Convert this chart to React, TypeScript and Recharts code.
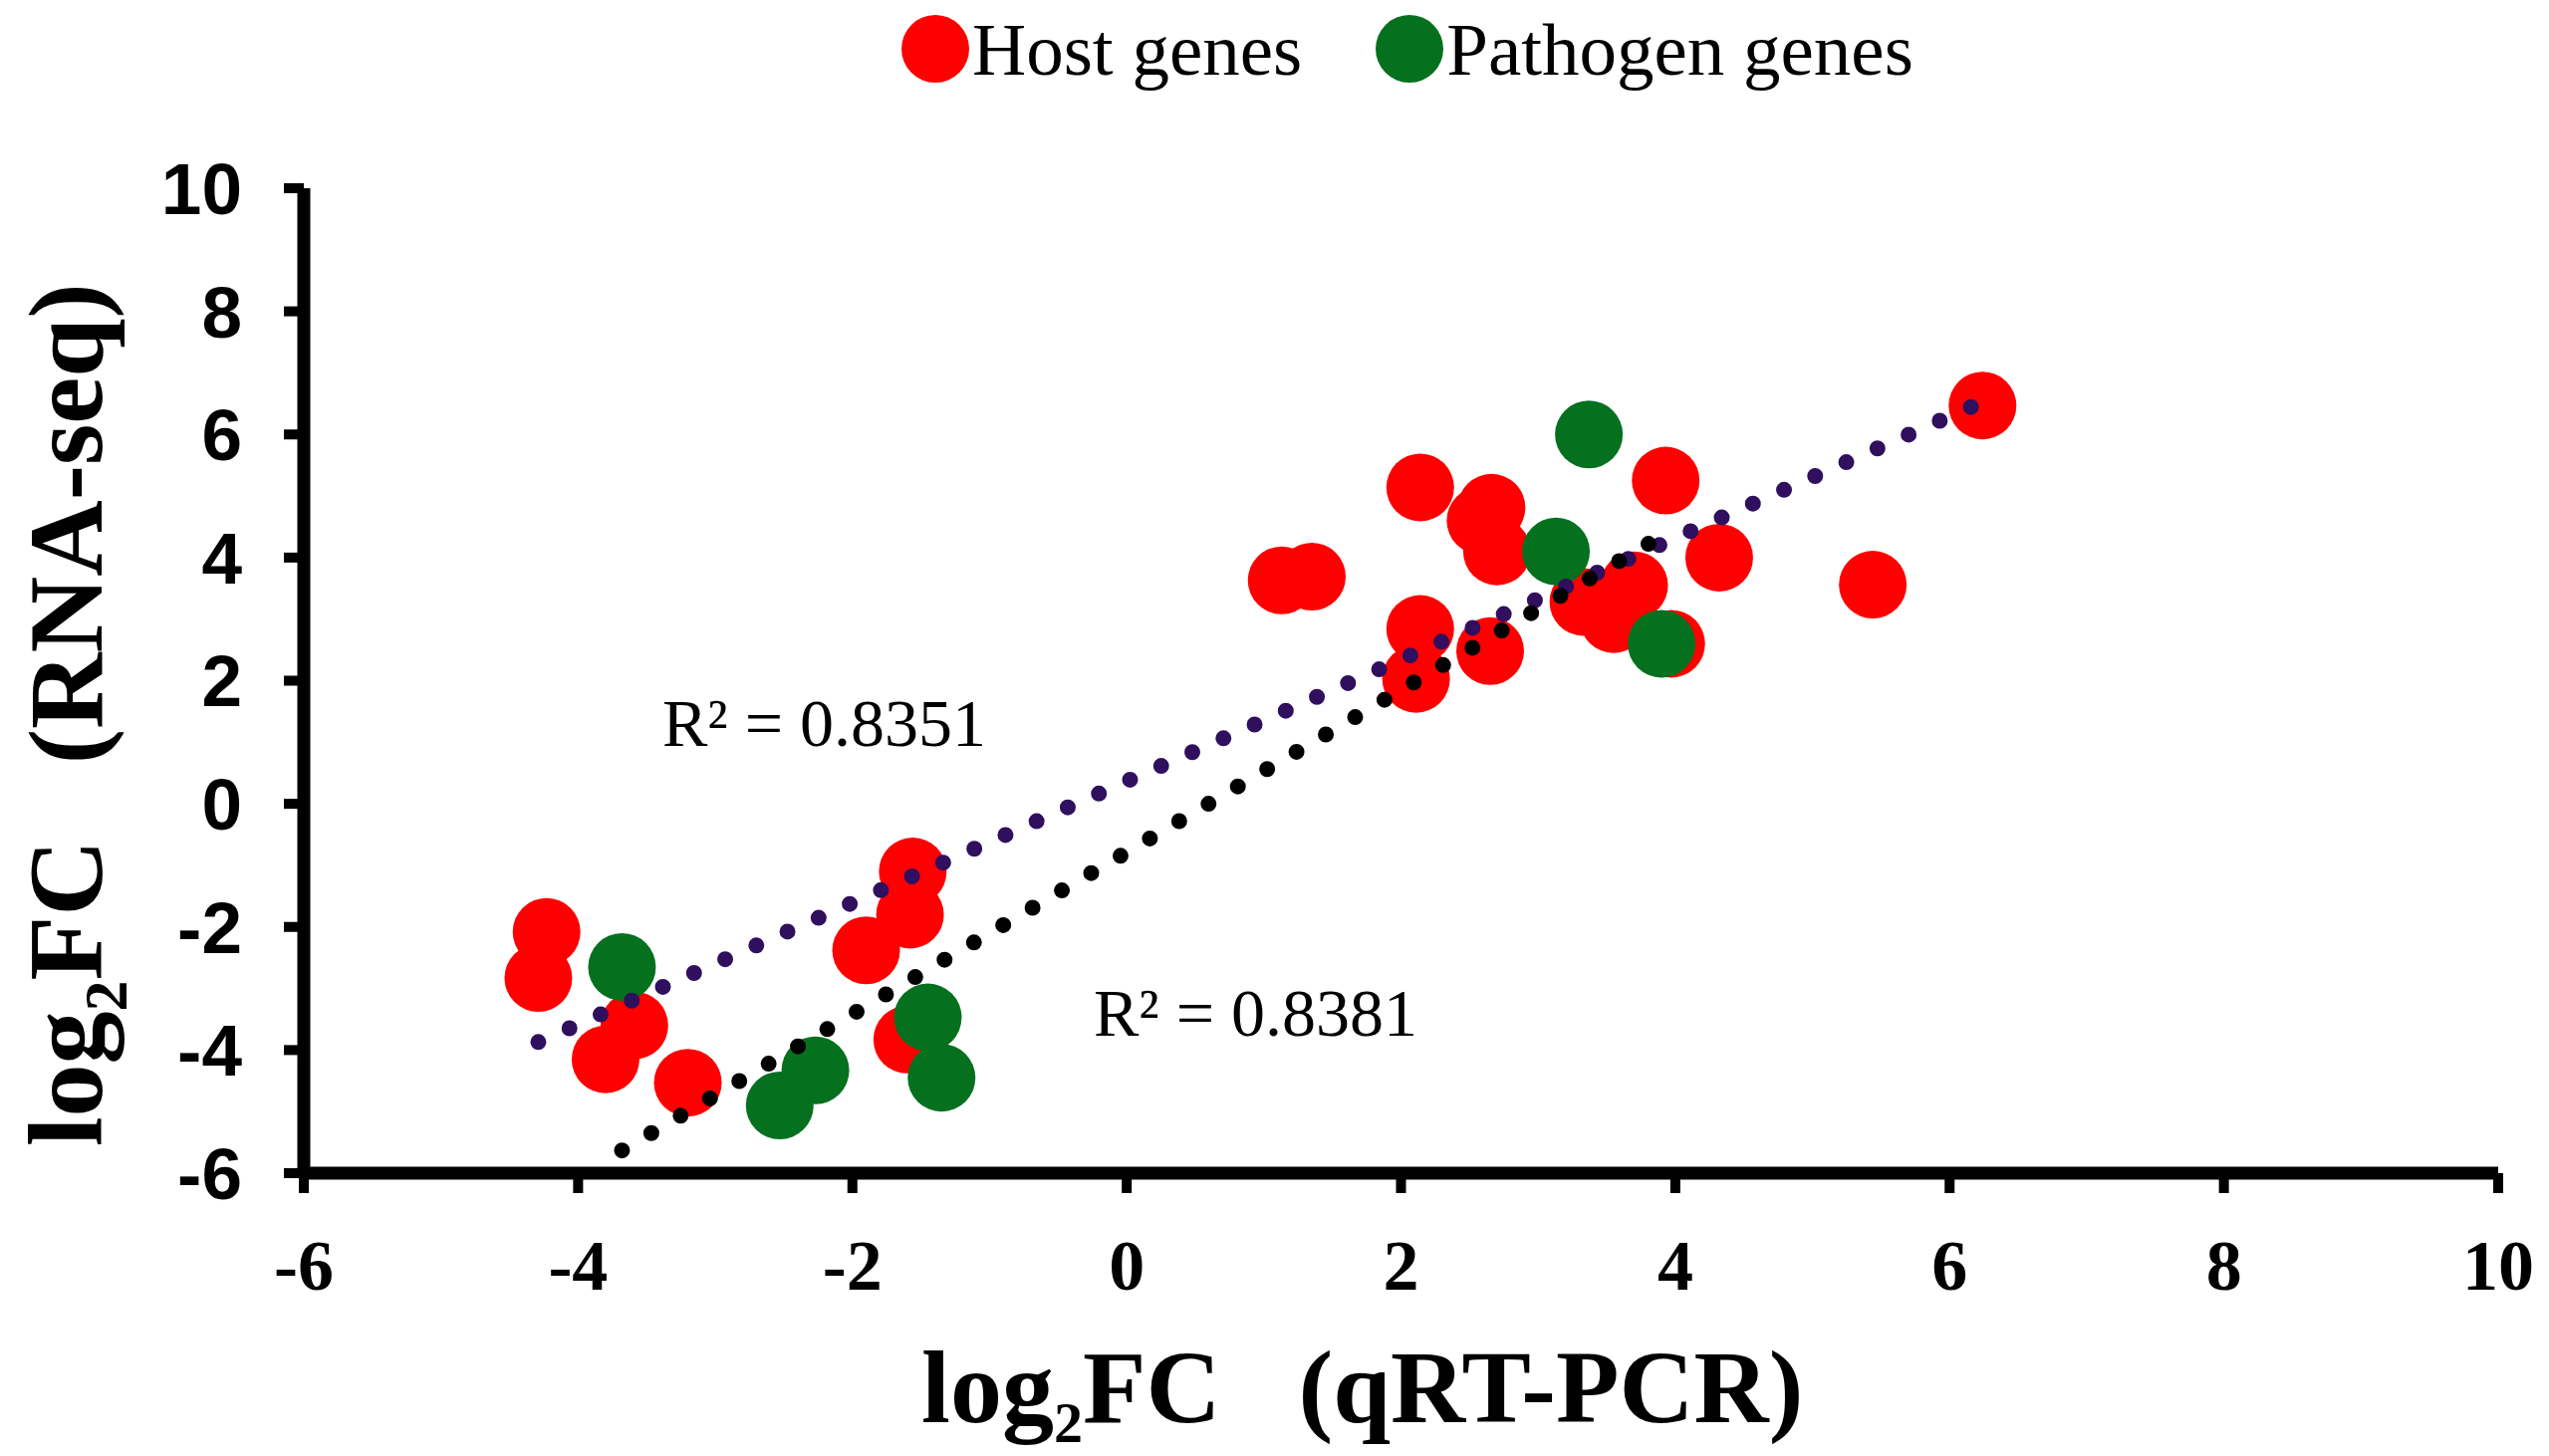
import React from "react";
import {
  ScatterChart,
  Scatter,
  XAxis,
  YAxis,
  Legend,
  Label,
  Customized,
} from "recharts";

// ---- data ----
const hostX = [6.24, 5.44, 4.32, 3.93, 2.14, 2.66, 2.58, 2.7, 1.13, 1.35, 2.14, 2.11, 2.65, 3.33, 3.7, 3.55, 3.97, -4.23, -4.29, -3.59, -3.8, -3.2, -1.56, -1.58, -1.9, -1.6];
const hostY = [6.47, 3.56, 4.0, 5.25, 5.14, 4.81, 4.6, 4.1, 3.63, 3.69, 2.84, 2.03, 2.48, 3.28, 3.55, 3.0, 2.6, -2.08, -2.83, -3.6, -4.15, -4.53, -1.1, -1.8, -2.38, -3.83];

const pathX = [3.37, 3.13, 3.9, -3.68, -2.53, -2.27, -1.45, -1.35];
const pathY = [6.0, 4.1, 2.6, -2.65, -4.9, -4.33, -3.47, -4.45];

// trendline end points
const hostTrendX = [-4.29, 6.24];
const hostTrendY = [-3.87, 6.53];
const pathTrendX = [-3.68, 3.9];
const pathTrendY = [-5.63, 4.35];

const xTicks = [-6, -4, -2, 0, 2, 4, 6, 8, 10];
const yTicks = [-6, -4, -2, 0, 2, 4, 6, 8, 10];

const seriesNames = ["Host genes", "Pathogen genes"];
const r2Labels = ["R² = 0.8351", "R² = 0.8381"];

const toPts = (xs: number[], ys: number[]) => xs.map((x, i) => ({ x, y: ys[i] }));
const hostData = toPts(hostX, hostY);
const pathData = toPts(pathX, pathY);
const hostTrend = toPts(hostTrendX, hostTrendY);
const pathTrend = toPts(pathTrendX, pathTrendY);

const RED = "#FF0000";
const GREEN = "#05701E";
const PURPLE = "#2F0F5E";
const BLACK = "#000000";

const serif = '"Liberation Serif", "Times New Roman", serif';
const sans = '"Liberation Sans", Arial, sans-serif';

const Dot = (p: any) => <circle cx={p.cx} cy={p.cy} r={34} fill={p.fill} />;
const NoShape = () => <g />;

const renderLegend = (props: any) => {
  const items = (props.payload || []).filter((it: any) => it.type !== "none" && seriesNames.includes(it.value));
  return (
    <div style={{ display: "flex", alignItems: "center", paddingLeft: 905, height: 98 }}>
      {items.map((it: any, i: number) => (
        <div key={i} style={{ display: "flex", alignItems: "center", marginRight: 74 }}>
          <svg width={68} height={68} style={{ display: "block" }}>
            <circle cx={34} cy={34} r={34} fill={it.color} />
          </svg>
          <span style={{ fontFamily: serif, fontSize: 75, lineHeight: "75px", marginLeft: 3, color: "#000" }}>
            {it.value}
          </span>
        </div>
      ))}
    </div>
  );
};

const XTitle = () => (
  <text x={925} y={1428} fontFamily={serif} fontWeight="bold" fontSize={104} fill="#000">
    <tspan>log</tspan>
    <tspan fontSize={58} dy={20}>2</tspan>
    <tspan dy={-20}>FC</tspan>
    <tspan dx={78}>(qRT-PCR)</tspan>
  </text>
);

const YTitle = () => (
  <text
    x={102}
    y={1151}
    transform="rotate(-90 102 1151)"
    fontFamily={serif}
    fontWeight="bold"
    fontSize={106}
    fill="#000"
  >
    <tspan>log</tspan>
    <tspan fontSize={62} dy={25}>2</tspan>
    <tspan dy={-25}>FC</tspan>
    <tspan dx={76}>(RNA-seq)</tspan>
  </text>
);

const R2Text = () => (
  <g>
    <text x={665} y={749} fontFamily={serif} fontSize={68} fill="#000">{r2Labels[0]}</text>
    <text x={1098} y={1040} fontFamily={serif} fontSize={68} fill="#000">{r2Labels[1]}</text>
  </g>
);

export default function App() {
  return (
    <div style={{ position: "absolute", left: 0, top: 0, width: 2559, height: 1462, background: "#fff" }}>
      <ScatterChart
        width={2559}
        height={1462}
        margin={{ top: 189, right: 51, bottom: 184, left: 0 }}
      >
        <XAxis
          type="number"
          dataKey="x"
          domain={[-6, 10]}
          ticks={xTicks}
          interval={0}
          allowDataOverflow
          height={100}
          axisLine={{ stroke: "#000", strokeWidth: 13 }}
          tickLine={{ stroke: "#000", strokeWidth: 10 }}
          tickSize={20}
          tickMargin={46}
          tick={{ fontFamily: serif, fontWeight: "bold", fontSize: 72, fill: "#000" }}
        >
          <Label content={XTitle} />
        </XAxis>
        <YAxis
          type="number"
          dataKey="y"
          domain={[-6, 10]}
          ticks={yTicks}
          interval={0}
          allowDataOverflow
          width={305}
          axisLine={{ stroke: "#000", strokeWidth: 13 }}
          tickLine={{ stroke: "#000", strokeWidth: 10 }}
          tickSize={20}
          tickMargin={42}
          tick={{ fontFamily: sans, fontWeight: "bold", fontSize: 73, fill: "#000" }}
        >
          <Label content={YTitle} />
        </YAxis>
        <Legend
          layout="horizontal"
          verticalAlign="middle"
          align="center"
          content={renderLegend}
          wrapperStyle={{ top: 0, left: 0, width: 2559, height: 98 }}
        />
        <Scatter name={seriesNames[0]} data={hostData} fill={RED} shape={Dot} isAnimationActive={false} />
        <Scatter name={seriesNames[1]} data={pathData} fill={GREEN} shape={Dot} isAnimationActive={false} />
        <Scatter
          name="host trend"
          data={hostTrend}
          fill={PURPLE}
          shape={NoShape}
          legendType="none"
          line={{ stroke: PURPLE, strokeWidth: 16, strokeDasharray: "0 34.2", strokeLinecap: "round" }}
          lineType="joint"
          isAnimationActive={false}
        />
        <Scatter
          name="pathogen trend"
          data={pathTrend}
          fill={BLACK}
          shape={NoShape}
          legendType="none"
          line={{ stroke: BLACK, strokeWidth: 16, strokeDasharray: "0 34.2", strokeLinecap: "round" }}
          lineType="joint"
          isAnimationActive={false}
        />
        <Customized component={R2Text} />
      </ScatterChart>
    </div>
  );
}
